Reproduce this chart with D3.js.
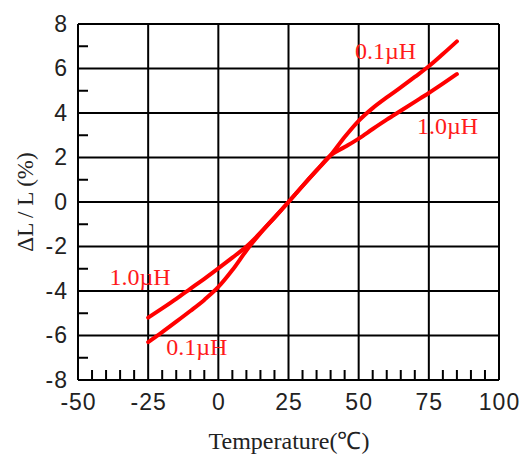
<!DOCTYPE html>
<html>
<head>
<meta charset="utf-8">
<script src="https://cdn.jsdelivr.net/npm/d3@7"></script>
<style>
  html, body { margin: 0; padding: 0; background: #fff; }
  svg { display: block; }
</style>
</head>
<body>
<svg id="chart" width="525" height="456"></svg>
<script>
// Inductance change vs. temperature
const temperatures = [-25, -20, -15, -10, -5, 0, 5, 10, 15, 20, 25, 30, 35, 40, 45, 50, 55, 60, 65, 70, 75, 80, 85];
const series01uH = [-6.3, -5.85, -5.38, -4.9, -4.4, -3.82, -3.06, -2.18, -1.4, -0.7, 0, 0.72, 1.42, 2.1, 2.92, 3.65, 4.22, 4.7, 5.15, 5.62, 6.1, 6.65, 7.22];
const series10uH = [-5.2, -4.78, -4.35, -3.9, -3.45, -2.98, -2.5, -2.0, -1.38, -0.7, 0, 0.72, 1.42, 2.1, 2.47, 2.85, 3.28, 3.7, 4.1, 4.5, 4.9, 5.32, 5.75];
const xTicks = [-50, -25, 0, 25, 50, 75, 100];
const yTicks = [-8, -6, -4, -2, 0, 2, 4, 6, 8];
const xMinorTicks = d3.range(-50, 101, 5).filter(v => v % 25 !== 0);
const yMinorTicks = [-7, -5, -3, -1, 1, 3, 5, 7];
const curveLabels = [
  { text: "0.1\u00B5H", t: 48.7, v: 6.43 },
  { text: "1.0\u00B5H", t: 70.8, v: 3.06 },
  { text: "1.0\u00B5H", t: -38.8, v: -3.73 },
  { text: "0.1\u00B5H", t: -18.6, v: -6.88 }
];

const svg = d3.select("#chart");
const plotLeft = 78, plotRight = 499, plotTop = 24, plotBottom = 380;
const x = d3.scaleLinear().domain([-50, 100]).range([plotLeft, plotRight]);
const y = d3.scaleLinear().domain([-8, 8]).range([plotBottom, plotTop]);

// grid
const grid = svg.append("g").attr("stroke", "#000").attr("stroke-width", 2);
grid.selectAll("line.v").data(xTicks).join("line")
  .attr("x1", d => x(d)).attr("x2", d => x(d))
  .attr("y1", plotTop).attr("y2", plotBottom);
grid.selectAll("line.h").data(yTicks).join("line")
  .attr("x1", plotLeft).attr("x2", plotRight)
  .attr("y1", d => y(d)).attr("y2", d => y(d));

// minor ticks (inside)
grid.selectAll("line.mx").data(xMinorTicks).join("line")
  .attr("x1", d => x(d)).attr("x2", d => x(d))
  .attr("y1", plotBottom).attr("y2", plotBottom - 10);
grid.selectAll("line.my").data(yMinorTicks).join("line")
  .attr("x1", plotLeft).attr("x2", plotLeft + 10)
  .attr("y1", d => y(d)).attr("y2", d => y(d));

// tick labels via d3 axes (plain hyphen for negatives)
const fmt = d => String(d);
const xAxis = svg.append("g").attr("transform", `translate(0,${plotBottom})`)
  .call(d3.axisBottom(x).tickValues(xTicks).tickSize(0).tickPadding(14).tickFormat(fmt));
const yAxis = svg.append("g").attr("transform", `translate(${plotLeft},0)`)
  .call(d3.axisLeft(y).tickValues(yTicks).tickSize(0).tickPadding(10).tickFormat(fmt));
[xAxis, yAxis].forEach(a => {
  a.select(".domain").remove();
  a.selectAll("text")
    .attr("font-family", "'Liberation Sans', Arial, sans-serif")
    .attr("font-size", 23)
    .attr("fill", "#222")
    .attr("letter-spacing", 1);
});

// curves
const line = d3.line().x(d => x(d[0])).y(d => y(d[1])).curve(d3.curveMonotoneX);
[series01uH, series10uH].forEach(s => {
  svg.append("path")
    .datum(temperatures.map((t, i) => [t, s[i]]))
    .attr("d", line)
    .attr("fill", "none")
    .attr("stroke", "#ff0000")
    .attr("stroke-width", 4)
    .attr("stroke-linecap", "round");
});

// curve labels
svg.selectAll("text.cl").data(curveLabels).join("text")
  .attr("x", d => x(d.t)).attr("y", d => y(d.v))
  .attr("font-family", "'Liberation Serif', 'Times New Roman', serif")
  .attr("font-size", 24)
  .attr("fill", "#ff1a1a")
  .text(d => d.text);

// axis titles
svg.append("text")
  .attr("x", 289).attr("y", 449)
  .attr("text-anchor", "middle")
  .attr("font-family", "'Liberation Serif', 'Times New Roman', serif")
  .attr("font-size", 24)
  .attr("fill", "#222")
  .text("Temperature(\u2103)");
svg.append("text")
  .attr("transform", `translate(33,${(plotTop + plotBottom) / 2}) rotate(-90)`)
  .attr("text-anchor", "middle")
  .attr("font-family", "'Liberation Serif', 'Times New Roman', serif")
  .attr("font-size", 23)
  .attr("fill", "#222")
  .text("\u0394L / L (%)");
</script>
</body>
</html>
